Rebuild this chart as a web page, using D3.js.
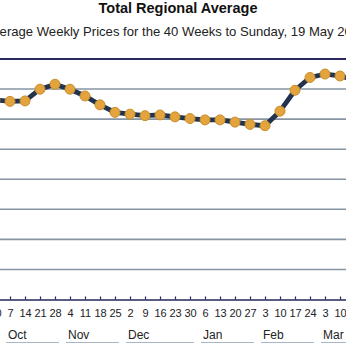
<!DOCTYPE html>
<html><head><meta charset="utf-8">
<script src="https://cdn.jsdelivr.net/npm/d3@7/dist/d3.min.js"></script>
<style>html,body{margin:0;padding:0;background:#fff;overflow:hidden}svg{display:block}</style>
</head><body>
<script>
const title = "Total Regional Average";
const subtitle = "Average Weekly Prices for the 40 Weeks to Sunday, 19 May 2013";
const weeks = ["30 Sep","7 Oct","14 Oct","21 Oct","28 Oct","4 Nov","11 Nov","18 Nov","25 Nov",
  "2 Dec","9 Dec","16 Dec","23 Dec","30 Dec","6 Jan","13 Jan","20 Jan","27 Jan",
  "3 Feb","10 Feb","17 Feb","24 Feb","3 Mar","10 Mar","17 Mar"];
const prices = [432.8,431.8,432.1,439.9,443.2,439.9,435.4,429.5,424.5,
  423.3,422.3,422.8,421.5,420.4,419.5,419.5,418.0,416.5,
  415.6,425.3,439.2,447.7,450.0,448.7,446.1];
const yTicks = [300,320,340,360,380,400,420,440,460];

const W = 346, H = 346;
const svg = d3.select("body").append("svg").attr("width", W).attr("height", H);

const step = 15;
const x = d3.scalePoint().domain(weeks).range([-5, -5 + step * (weeks.length - 1)]);
const y = d3.scaleLinear().domain([300, 460]).range([299.5, 59]);

// titles
svg.append("text").attr("x", 178).attr("y", 13).attr("text-anchor", "middle")
  .attr("font-family", "Liberation Sans, Arial, sans-serif").attr("font-size", 14.5)
  .attr("font-weight", "bold").attr("fill", "#111").text(title);
svg.append("text").attr("x", 175.5).attr("y", 36).attr("text-anchor", "middle")
  .attr("font-family", "Liberation Sans, Arial, sans-serif").attr("font-size", 13.1)
  .attr("fill", "#222").text(subtitle);

// gridlines
svg.append("g").selectAll("line").data(yTicks.slice(1, -1)).join("line")
  .attr("x1", 0).attr("x2", W).attr("y1", d => y(d)).attr("y2", d => y(d))
  .attr("stroke", "#8794a3").attr("stroke-width", 1.6);
// top frame
svg.append("line").attr("x1", 0).attr("x2", W).attr("y1", y(460)).attr("y2", y(460))
  .attr("stroke", "#26285e").attr("stroke-width", 2);

// x axis
const ax = svg.append("g").attr("transform", `translate(0,${y(300)})`)
  .call(d3.axisBottom(x).tickSize(-3).tickPadding(10).tickFormat(d => d.split(" ")[0]));
ax.select(".domain").attr("stroke", "#26285e").attr("stroke-width", 1.5);
ax.selectAll(".tick line").attr("stroke", "#26285e").attr("stroke-width", 1.2);
ax.selectAll(".tick text").attr("font-family", "Liberation Sans, Arial, sans-serif")
  .attr("font-size", 11).attr("fill", "#222");

// month groups (label sits at the month's first Sunday, even when that week is outside the view)
const months = [];
weeks.forEach((w, i) => {
  const [day, m] = w.split(" ");
  if (!months.length || months[months.length - 1].name !== m)
    months.push({name: m, first: w, last: w, back: Math.floor((+day - 1) / 7)});
  else months[months.length - 1].last = w;
});
const mg = svg.append("g");
months.forEach(m => {
  const x0 = x(m.first) - m.back * step - step / 2 + 3.5, x1 = x(m.last) + step / 2 - 3.5;
  mg.append("line").attr("x1", x0).attr("x2", x1).attr("y1", 342.5).attr("y2", 342.5)
    .attr("stroke", "#a9b6c8").attr("stroke-width", 1);
  mg.append("text").attr("x", x0 + 2).attr("y", 339)
    .attr("font-family", "Liberation Sans, Arial, sans-serif").attr("font-size", 12)
    .attr("fill", "#222").text(m.name);
});

// line + dots
const data = weeks.map((w, i) => ({w, v: prices[i]}));
svg.append("path").datum(data)
  .attr("d", d3.line().x(d => x(d.w)).y(d => y(d.v)))
  .attr("fill", "none").attr("stroke", "#22334f").attr("stroke-width", 4.8)
  .attr("stroke-linejoin", "round");
svg.append("g").selectAll("circle").data(data).join("circle")
  .attr("cx", d => x(d.w)).attr("cy", d => y(d.v)).attr("r", 5)
  .attr("fill", "#e3a43e").attr("stroke", "#c98f2e").attr("stroke-width", 1);
</script>
</body></html>
